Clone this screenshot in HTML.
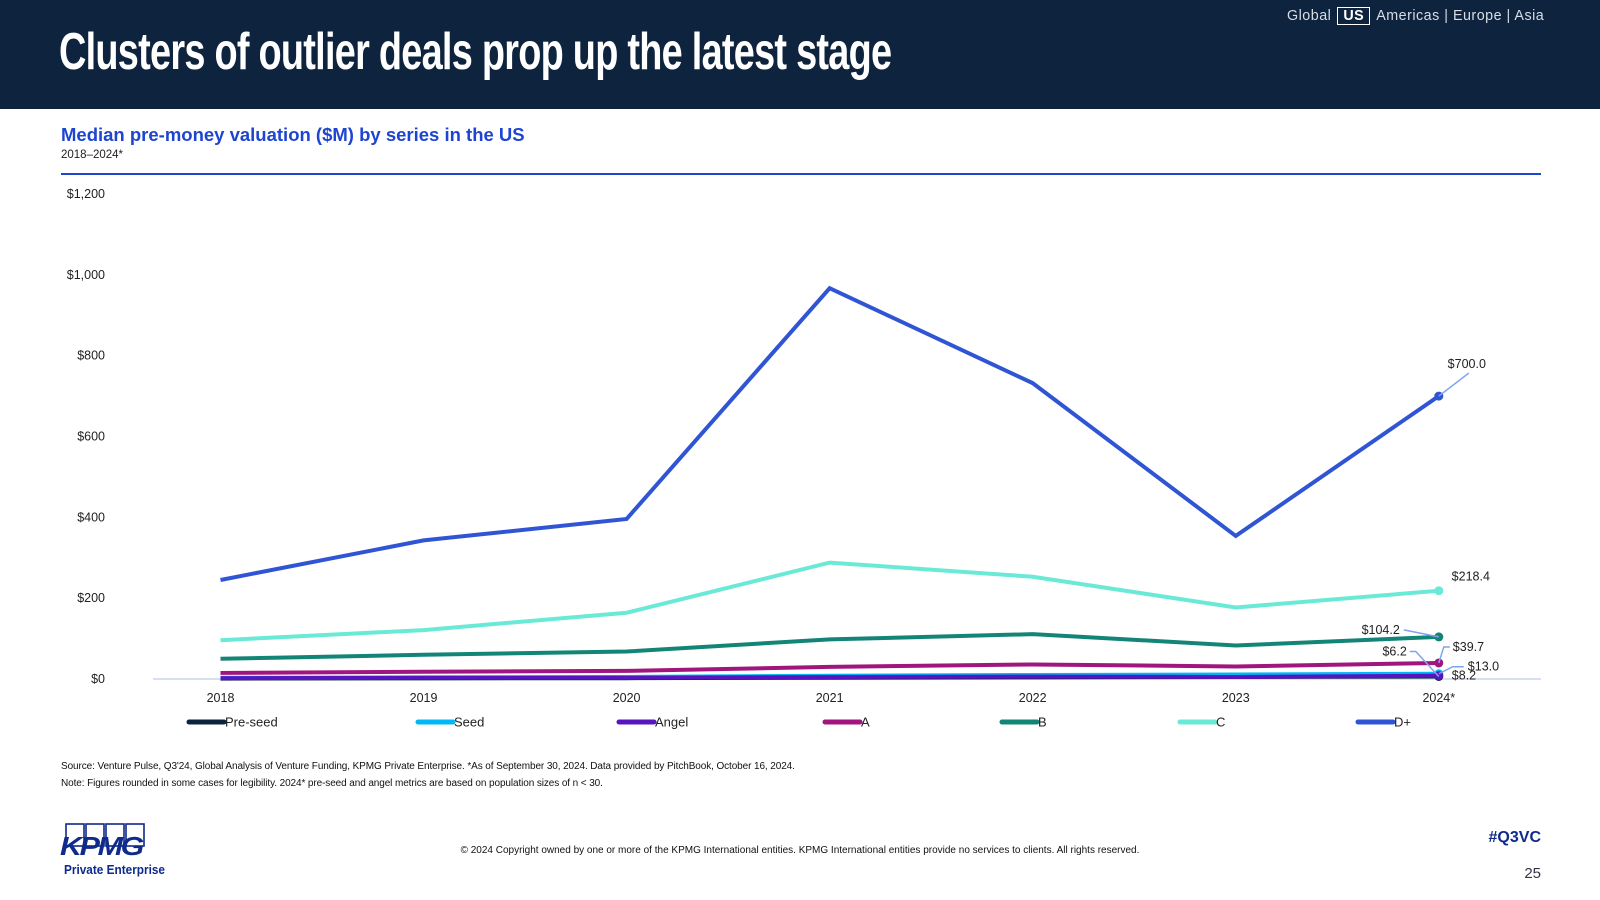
<!DOCTYPE html>
<html><head><meta charset="utf-8"><style>
*{margin:0;padding:0;box-sizing:border-box}
body{width:1600px;height:900px;background:#fff;font-family:"Liberation Sans",sans-serif;position:relative;overflow:hidden}
.hdr{position:absolute;left:0;top:0;width:1600px;height:109px;background:#0e233d}
.title{position:absolute;left:59px;top:22px;color:#fff;font-weight:bold;font-size:52px;white-space:nowrap;transform:scaleX(0.728);transform-origin:left top;letter-spacing:-1px}
.nav{position:absolute;left:1287px;top:7px;color:#d8dde6;font-size:14.3px;letter-spacing:0.5px;white-space:nowrap}
.nav .us{display:inline-block;border:1.5px solid #fff;color:#fff;font-weight:bold;padding:0 5px;margin:0 6px;line-height:16px}
.sub{position:absolute;left:61px;top:124px;color:#1e45d0;font-weight:bold;font-size:18.5px}
.yr{position:absolute;left:61px;top:149px;color:#222;font-size:11.5px}
.rule{position:absolute;left:61px;top:173px;width:1480px;height:2px;background:#1e45d0}
.note{position:absolute;left:61px;font-size:10px;color:#111;letter-spacing:-0.1px}
.copy{position:absolute;left:0;width:1600px;text-align:center;top:845px;font-size:10px;color:#111;padding-left:0}
.tag{position:absolute;right:59px;top:829px;color:#0e2a8a;font-weight:bold;font-size:16px}
.pg{position:absolute;right:59px;top:865px;color:#334;font-size:15px}
</style></head><body>
<div class="hdr">
<div class="title">Clusters of outlier deals prop up the latest stage</div>
<div class="nav"><span>Global</span><span class="us">US</span><span>Americas | Europe | Asia</span></div>
</div>
<div class="sub">Median pre-money valuation ($M) by series in the US</div>
<div class="yr">2018–2024*</div>
<div class="rule"></div>
<svg id="chart" width="1600" height="740" style="position:absolute;left:0;top:0"></svg>
<div class="note" style="top:761px">Source: Venture Pulse, Q3'24, Global Analysis of Venture Funding, KPMG Private Enterprise. *As of September 30, 2024. Data provided by PitchBook, October 16, 2024.</div>
<div class="note" style="top:778px">Note: Figures rounded in some cases for legibility. 2024* pre-seed and angel metrics are based on population sizes of n &lt; 30.</div>
<svg style="position:absolute;left:60px;top:822px" width="110" height="60">
<g fill="none" stroke="#0e2a8a" stroke-width="1.6"><rect x="6" y="2" width="18" height="22"/><rect x="26" y="2" width="18" height="22"/><rect x="46" y="2" width="18" height="22"/><rect x="66" y="2" width="18" height="22"/></g>
<text x="0" y="33" font-family="Liberation Sans" font-weight="bold" font-style="italic" font-size="26" fill="#0e2a8a" textLength="82" lengthAdjust="spacingAndGlyphs" letter-spacing="-2">KPMG</text>
<text x="4" y="52" font-family="Liberation Sans" font-weight="bold" font-size="13" fill="#0e2a8a" textLength="101" lengthAdjust="spacingAndGlyphs">Private Enterprise</text>
</svg>
<div class="copy">© 2024 Copyright owned by one or more of the KPMG International entities. KPMG International entities provide no services to clients. All rights reserved.</div>
<div class="tag">#Q3VC</div>
<div class="pg">25</div>
<script>
const categories=["2018","2019","2020","2021","2022","2023","2024*"];
const yTicks=[0,200,400,600,800,1000,1200];
const seriesNames=["Pre-seed","Seed","Angel","A","B","C","D+"];
const preseed=[1,1.5,2,3,4,5,6.2];
const seed=[3,4,5,8,10,11,13.0];
const angel=[2,3,3,5,6,5,8.2];
const seriesA=[15,18,20,30,36,31,39.7];
const seriesB=[50,60,68,98,111,83,104.2];
const seriesC=[96,121,164,288,253,177,218.4];
const seriesD=[245,343,396,967,732,354,700.0];
const colors=["#0c233c","#00b8f5","#5715c0","#a0167e","#138577","#6aead6","#2f55d4"];
const svg=document.getElementById('chart');const NS='http://www.w3.org/2000/svg';
function x(i){return 220.5+i*(1438.8-220.5)/6}
function y(v){return 679-v*(679-194)/1200}
function mk(t,a,p){const e=document.createElementNS(NS,t);for(const k in a)e.setAttribute(k,a[k]);(p||svg).appendChild(e);return e}
yTicks.forEach(v=>{const t=mk('text',{x:105,y:y(v)+4,'text-anchor':'end','font-size':12.5,fill:'#222','font-family':'Liberation Sans'});t.textContent='$'+v.toLocaleString('en-US');

});
const ax=mk('line',{x1:153,x2:1541,y1:y(0),y2:y(0),stroke:'#c8d5ef','stroke-width':1.5});


categories.forEach((c,i)=>{const t=mk('text',{x:x(i),y:702,'text-anchor':'middle','font-size':12.5,fill:'#222','font-family':'Liberation Sans'});t.textContent=c;

});
const all=[preseed,seed,angel,seriesA,seriesB,seriesC,seriesD];
all.forEach((s,k)=>{const p=mk('polyline',{points:s.map((v,i)=>x(i)+','+y(v)).join(' '),fill:'none',stroke:colors[k],'stroke-width':4,'stroke-linejoin':'miter'});


const d=mk('circle',{cx:x(6),cy:y(s[6]),r:4.5,fill:colors[k]});

});
const lx=x(6);
function lab(v,tx,ty,anchor,pts){if(pts){const l=mk('polyline',{points:pts,fill:'none',stroke:'#7fa3ee','stroke-width':1.5});

}
const t=mk('text',{x:tx,y:ty,'text-anchor':anchor,'font-size':12.5,fill:'#222','font-family':'Liberation Sans'});t.textContent='$'+v.toFixed(1);

}
lab(seriesD[6],lx+28,y(seriesD[6])-28,'middle',(lx+30)+','+(y(seriesD[6])-23)+' '+lx+','+y(seriesD[6]));
lab(seriesC[6],lx+32,y(seriesC[6])-10,'middle',null);
lab(seriesB[6],lx-39,y(seriesB[6])-3,'end',(lx-35)+','+(y(seriesB[6])-7)+' '+lx+','+y(seriesB[6]));
lab(seriesA[6],lx+14,y(seriesA[6])-12,'start',(lx+11)+','+(y(seriesA[6])-16)+' '+(lx+5)+','+(y(seriesA[6])-16)+' '+lx+','+y(seriesA[6]));
lab(preseed[6],lx-32,y(preseed[6])-21,'end',(lx-29)+','+(y(preseed[6])-25)+' '+(lx-23)+','+(y(preseed[6])-25)+' '+lx+','+y(preseed[6]));
lab(seed[6],lx+29,y(seed[6])-3,'start',(lx+25)+','+(y(seed[6])-7)+' '+(lx+14)+','+(y(seed[6])-7)+' '+lx+','+y(seed[6]));
lab(angel[6],lx+13,y(angel[6])+4,'start',null);
const legX=[189,418,619,825,1002,1180,1358];
seriesNames.forEach((n,k)=>{const l=mk('line',{x1:legX[k],x2:legX[k]+35,y1:722,y2:722,stroke:colors[k],'stroke-width':5,'stroke-linecap':'round'});


const t=mk('text',{x:legX[k]+36,y:726.5,'font-size':13,fill:'#222','font-family':'Liberation Sans'});t.textContent=n;

});
</script>
</body></html>
